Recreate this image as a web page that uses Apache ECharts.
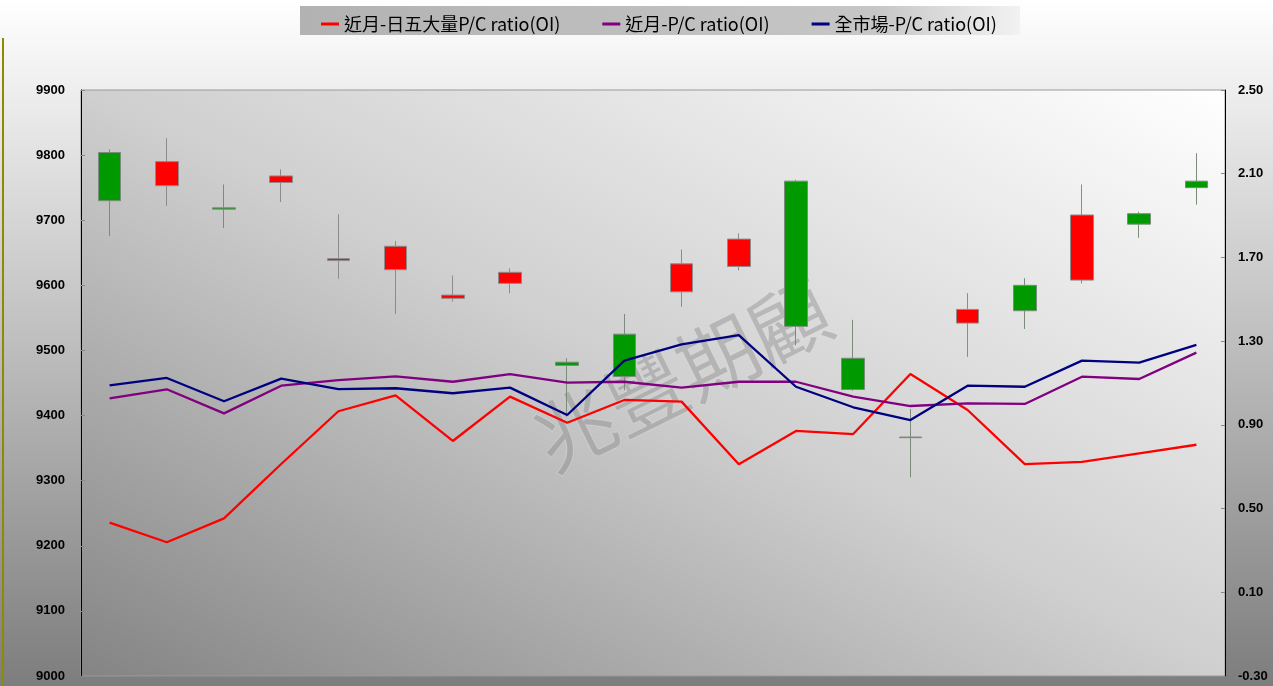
<!DOCTYPE html>
<html>
<head>
<meta charset="utf-8">
<script src="https://cdn.jsdelivr.net/npm/echarts@6/dist/echarts.min.js"></script>
<style>
html,body{margin:0;padding:0;width:1273px;height:686px;overflow:hidden;}
#main{width:1273px;height:686px;}
</style>
</head>
<body>
<div id="main"></div>
<script>
// ---- data ----
const categories = ['1','2','3','4','5','6','7','8','9','10','11','12','13','14','15','16','17','18','19','20'];
// [open, close, low, high]
const candleOHLC = [
  [9804, 9730, 9676, 9809],
  [9753, 9790, 9722, 9826],
  [9719, 9717, 9688, 9755],
  [9758, 9768, 9728, 9778],
  [9638, 9641, 9610, 9709],
  [9624, 9660, 9556, 9668],
  [9580, 9585, 9575, 9615],
  [9603, 9620, 9588, 9626],
  [9482, 9477, 9398, 9488],
  [9525, 9460, 9439, 9556],
  [9590, 9633, 9567, 9655],
  [9629, 9671, 9623, 9680],
  [9760, 9537, 9508, 9762],
  [9488, 9440, 9438, 9547],
  [9367, 9366, 9305, 9410],
  [9542, 9563, 9490, 9588],
  [9600, 9561, 9533, 9611],
  [9608, 9708, 9603, 9755],
  [9710, 9694, 9673, 9713],
  [9760, 9750, 9724, 9803]
];
const top5PC = [0.433,0.339,0.453,0.713,0.965,1.041,0.823,1.035,0.910,1.019,1.011,0.712,0.871,0.856,1.143,0.971,0.712,0.723,0.764,0.805];
const nearPC = [1.027,1.070,0.955,1.087,1.114,1.132,1.106,1.142,1.102,1.106,1.078,1.106,1.106,1.035,0.990,1.003,1.000,1.130,1.119,1.245];
const marketPC = [1.089,1.124,1.013,1.121,1.071,1.075,1.051,1.078,0.947,1.207,1.285,1.329,1.082,0.984,0.923,1.087,1.082,1.207,1.197,1.282];
const seriesNames = ['近月-日五大量P/C ratio(OI)', '近月-P/C ratio(OI)', '全市場-P/C ratio(OI)'];
const rightTicks = [-0.30, 0.10, 0.50, 0.90, 1.30, 1.70, 2.10, 2.50];
const watermarkText = '兆豐期顧';

// ---- chart ----
const chart = echarts.init(document.getElementById('main'));
const labelFont = {color:'#000', fontSize:13, fontWeight:'bold', fontFamily:'Liberation Sans, Arial, sans-serif'};

chart.setOption({
  animation: false,
  backgroundColor: new echarts.graphic.LinearGradient(0, 0, 0, 1, [
    {offset:0, color:'#ffffff'},
    {offset:1, color:'#7d7d7d'}
  ]),
  graphic: [
    {type:'rect', z:0, shape:{x:300, y:6, width:720, height:29},
     style:{fill: new echarts.graphic.LinearGradient(0, 0, 1, 0, [
       {offset:0, color:'#b2b2b2'}, {offset:0.8, color:'#c6c6c6'}, {offset:1, color:'#f2f2f2'}
     ])}},
    {type:'rect', z:0, shape:{x:2, y:38, width:2, height:648}, style:{fill:'#8c8c00'}},
    {type:'text', z:1, x:682, y:375, rotation:0.46,
     style:{text:watermarkText, font:'normal 80px "Noto Sans CJK TC", sans-serif',
            fill:'rgba(128,128,128,0.38)', stroke:'rgba(225,225,225,0.4)', lineWidth:1.5,
            align:'center', verticalAlign:'middle'}}
  ],
  legend: {
    z: 5,
    left: 316, top: 10,
    itemGap: 42, itemWidth: 18, itemHeight: 3,
    icon: 'rect',
    data: seriesNames,
    textStyle: {color:'#000', fontSize:18, fontFamily:'"Noto Sans CJK TC", sans-serif'}
  },
  grid: {
    left: 81, right: 48, top: 90, bottom: 10,
    show: true,
    borderColor: '#9a9a9a',
    borderWidth: 1,
    backgroundColor: new echarts.graphic.LinearGradient(81, 676, 556, -252, [
      {offset:0, color:'#848484'},
      {offset:0.5, color:'#cfcfcf'},
      {offset:1, color:'#ffffff'}
    ], true)
  },
  xAxis: {
    type: 'category',
    data: categories,
    boundaryGap: true,
    axisLine: {show:true, onZero:false, lineStyle:{color:'#8a8a8a'}},
    axisTick: {show:false},
    axisLabel: {show:false},
    splitLine: {show:false}
  },
  yAxis: [
    {
      type:'value', min:9000, max:9900, interval:100,
      axisLine:{show:true, lineStyle:{color:'#000'}},
      axisTick:{show:true, inside:true, length:4, lineStyle:{color:'#888'}},
      axisLabel:{...labelFont, margin:16, formatter: v => String(v)},
      splitLine:{show:false}
    },
    {
      type:'value', min:-0.3, max:2.5, position:'right',
      axisLine:{show:true, lineStyle:{color:'#000'}},
      axisTick:{show:true, inside:true, length:4, lineStyle:{color:'#888'}, customValues: rightTicks},
      axisLabel:{...labelFont, margin:13, customValues: rightTicks, formatter: v => Number(v).toFixed(2)},
      splitLine:{show:false}
    }
  ],
  series: [
    {
      type:'candlestick', name:'K', yAxisIndex:0, barWidth:23, z:2,
      data: candleOHLC,
      itemStyle:{color:'#ff0000', color0:'#009900', borderColor:'#8c8c8c', borderColor0:'#7c8c7c', borderWidth:1}
    },
    {type:'line', name:seriesNames[0], yAxisIndex:1, data:top5PC, showSymbol:false, symbol:'none', z:3,
     lineStyle:{color:'#ff0000', width:2.3}, itemStyle:{color:'#ff0000'}},
    {type:'line', name:seriesNames[1], yAxisIndex:1, data:nearPC, showSymbol:false, symbol:'none', z:3,
     lineStyle:{color:'#800080', width:2.3}, itemStyle:{color:'#800080'}},
    {type:'line', name:seriesNames[2], yAxisIndex:1, data:marketPC, showSymbol:false, symbol:'none', z:3,
     lineStyle:{color:'#000080', width:2.3}, itemStyle:{color:'#000080'}}
  ]
});
</script>
</body>
</html>
